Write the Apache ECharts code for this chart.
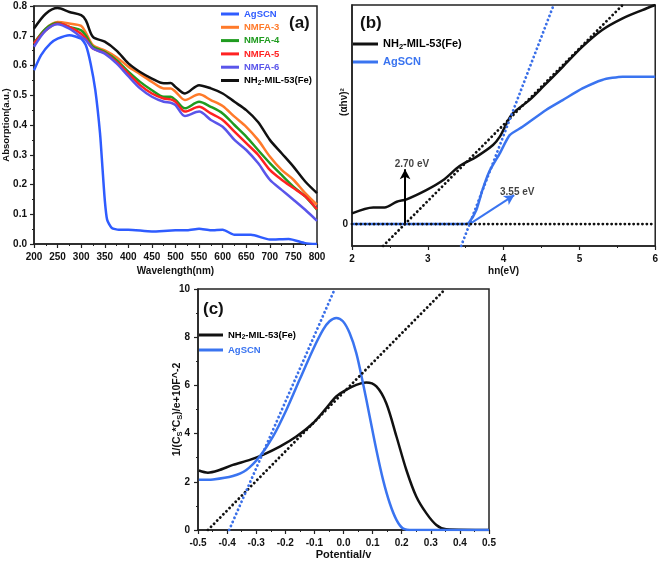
<!DOCTYPE html>
<html><head><meta charset="utf-8">
<script src="https://cdn.jsdelivr.net/npm/echarts@6/dist/echarts.min.js"></script>
<style>html,body{margin:0;padding:0;background:#fff}#c{width:661px;height:562px}</style>
</head><body><div id="c"></div>
<script>
// ---------- Panel (a): UV-vis absorption ----------
const waveA = [200,225,250,275,300,310,325,350,375,400,425,450,475,490,500,520,550,575,600,625,650,675,700,725,750,775,800];
const absNH2   = [.724,.774,.793,.780,.769,.752,.696,.680,.650,.607,.578,.556,.540,.541,.528,.506,.534,.523,.506,.478,.450,.410,.350,.305,.260,.210,.171];
const absNMFA3 = [.674,.724,.746,.741,.733,.710,.668,.651,.628,.596,.571,.545,.523,.523,.512,.484,.503,.484,.464,.428,.394,.350,.294,.249,.216,.171,.132];
const absNMFA4 = [.674,.724,.743,.730,.718,.700,.663,.646,.618,.579,.545,.517,.495,.495,.484,.456,.478,.461,.439,.400,.361,.316,.272,.232,.193,.160,.115];
const absNMFA5 = [.674,.718,.741,.730,.707,.690,.657,.642,.612,.573,.534,.506,.489,.486,.478,.445,.461,.439,.417,.378,.339,.300,.249,.216,.188,.160,.117];
const absNMFA6 = [.663,.718,.739,.724,.696,.685,.657,.640,.607,.564,.523,.495,.478,.475,.467,.430,.445,.417,.394,.350,.316,.272,.216,.182,.149,.115,.078];
const waveAg = [200,215,235,250,275,300,310,320,330,340,345,350,355,365,380,400,450,500,525,550,575,600,625,660,700,740,775,800];
const absAg  = [.584,.635,.674,.690,.702,.690,.668,.607,.517,.372,.260,.149,.082,.054,.048,.048,.042,.046,.046,.051,.046,.048,.031,.031,.015,.017,.003,0];

// ---------- Panel (b): Tauc plot ----------
const bNH2X = [2,2.28,2.43,2.59,2.72,2.98,3.2,3.42,3.64,3.86,3.95,4.04,4.12,4.34,4.52,4.78,5.04,5.3,5.57,5.83,6];
const bNH2Y = [0.49,0.76,0.76,1.02,1.13,1.55,2.0,2.65,3.07,3.61,3.99,4.6,5.05,5.66,6.27,7.18,8.1,8.86,9.39,9.77,10.0];
const bAgX = [2,3.5,3.55,3.64,3.72,3.81,3.95,4.08,4.25,4.56,4.78,5.04,5.3,5.57,6];
const bAgY = [0,0,0.1,0.64,1.55,2.39,3.23,4.06,4.44,5.21,5.66,6.19,6.58,6.73,6.73];
const bFitNH2 = [[2.41,-1],[5.57,10]];
const bFitAg  = [[3.44,-1],[4.66,10]];
const bBase   = [[2,0],[6,0]];
const bArrowNH2 = [[2.70,0],[2.70,2.5]];
const bArrowAg  = [[3.55,0],[4.14,1.32]];
const bNotes = [[2.79,2.72,'2.70 eV'],[4.18,1.46,'3.55 eV']];

// ---------- Panel (c): Mott-Schottky ----------
const cNH2X = [-0.497,-0.466,-0.431,-0.38,-0.322,-0.277,-0.219,-0.162,-0.105,-0.059,-0.025,0.01,0.044,0.078,0.113,0.147,0.182,0.216,0.25,0.285,0.319,0.353,0.5];
const cNH2Y = [2.47,2.38,2.47,2.7,2.91,3.12,3.46,3.88,4.43,5.06,5.54,5.82,6.02,6.12,5.96,5.26,3.88,2.49,1.39,0.69,0.21,0.03,0];
const cAgX = [-0.497,-0.448,-0.38,-0.334,-0.288,-0.242,-0.196,-0.151,-0.105,-0.07,-0.048,-0.025,-0.002,0.021,0.044,0.067,0.09,0.113,0.136,0.159,0.182,0.204,0.239,0.5];
const cAgY = [2.08,2.1,2.24,2.49,3.05,3.88,4.99,6.23,7.48,8.31,8.66,8.8,8.66,8.17,7.34,6.09,4.71,3.32,2.08,1.11,0.42,0.07,0,0];
const cFitNH2 = [[-0.466,0],[0.35,10]];
const cFitAg  = [[-0.393,0],[-0.03,10]];

const zip = (xs, ys) => xs.map((x, i) => [x, ys[i]]);
const FONT = '"Liberation Sans", Arial, sans-serif';
const C = {ag:'#2f5cff', n3:'#ff7a2a', n4:'#1f9b1f', n5:'#ff2222', n6:'#5a55ea', nh2:'#111111', ag2:'#3a74f0', agDot:'#3a6fe8'};

function axisCommon(extra) {
  return Object.assign({
    axisLine:{show:true, onZero:false, lineStyle:{color:'#222', width:1.5}},
    axisTick:{show:true, inside:false, length:4, lineStyle:{color:'#222', width:1.2}},
    minorTick:{show:true, splitNumber:2, length:2, lineStyle:{color:'#222', width:1}},
    splitLine:{show:false},
    axisLabel:{color:'#111', fontFamily:FONT, fontWeight:'bold', fontSize:10, margin:8, hideOverlap:false, interval:0},
    nameTextStyle:{color:'#111', fontFamily:FONT, fontWeight:'bold', fontSize:10},
    nameLocation:'middle',
    nameMoveOverlap:false
  }, extra);
}

const richLeg = (fs) => ({
  n:{fontFamily:FONT, fontWeight:'bold', fontSize:fs, color:'#000'},
  s:{fontFamily:FONT, fontWeight:'bold', fontSize:fs*0.68, color:'#000', padding:[fs*0.5,0,0,0]}
});
const legFmt = (name) => {
  const n = name.slice(2);
  if (n === 'NH2-MIL-53(Fe)') return '{n|NH}{s|2}{n|-MIL-53(Fe)}';
  return n;
};

function line(name, data, color, xi, extra) {
  return Object.assign({
    type:'line', name, data, xAxisIndex:xi, yAxisIndex:xi, symbol:'none', smooth:0.3,
    lineStyle:{color, width:2.5}, itemStyle:{color}, silent:true, z:3
  }, extra || {});
}
function dotted(name, data, color, xi, z) {
  return {type:'line', name, data, xAxisIndex:xi, yAxisIndex:xi, symbol:'none', silent:true, z:z||4,
    lineStyle:{color, width:2.8, type:[0.1,4.3], cap:'round'}, itemStyle:{color}};
}
function arrow(data, color) {
  return {type:'line', data:[], xAxisIndex:1, yAxisIndex:1, symbol:'none', silent:true, z:6,
    markLine:{silent:true, symbol:['none','arrow'], symbolSize:[8,10], label:{show:false},
      lineStyle:{color, width:2, type:'solid'}, emphasis:{disabled:true},
      data:[[{coord:data[0]},{coord:data[1]}]]}};
}

const option = {
  animation:false,
  backgroundColor:'#fff',
  textStyle:{fontFamily:FONT},
  title:[
    {text:'(a)', left:289, top:15, padding:0, textStyle:{fontFamily:FONT, fontWeight:'bold', fontSize:17, color:'#111'}},
    {text:'(b)', left:360, top:15, padding:0, textStyle:{fontFamily:FONT, fontWeight:'bold', fontSize:17, color:'#111'}},
    {text:'(c)', left:203, top:301, padding:0, textStyle:{fontFamily:FONT, fontWeight:'bold', fontSize:17, color:'#111'}}
  ],
  grid:[
    {left:34, top:6, width:283, height:238, show:true, borderColor:'#222', borderWidth:1.5, backgroundColor:'transparent'},
    {left:352, top:5, width:304, height:241, show:true, borderColor:'#222', borderWidth:1.5, backgroundColor:'transparent'},
    {left:198, top:289, width:291, height:241, show:true, borderColor:'#222', borderWidth:1.5, backgroundColor:'transparent'}
  ],
  xAxis:[
    axisCommon({gridIndex:0, type:'value', min:200, max:800, interval:50, name:'Wavelength(nm)', nameGap:22}),
    axisCommon({gridIndex:1, type:'value', min:2, max:6, interval:1, name:'hn(eV)', nameGap:20}),
    axisCommon({gridIndex:2, type:'value', min:-0.5, max:0.5, interval:0.1, name:'Potential/v', nameGap:19,
      axisLabel:{color:'#111', fontFamily:FONT, fontWeight:'bold', fontSize:10, margin:8, hideOverlap:false, interval:0, formatter:v=>v.toFixed(1)},
      nameTextStyle:{color:'#111', fontFamily:FONT, fontWeight:'bold', fontSize:11}})
  ],
  yAxis:[
    axisCommon({gridIndex:0, type:'value', min:0, max:0.8, interval:0.1, name:'Absorption(a.u.)', nameGap:23,
      axisLabel:{color:'#111', fontFamily:FONT, fontWeight:'bold', fontSize:10, margin:7, formatter:v=>v.toFixed(1)},
      nameTextStyle:{color:'#111', fontFamily:FONT, fontWeight:'bold', fontSize:9.5}}),
    axisCommon({gridIndex:1, type:'value', min:-1, max:10, interval:1, name:'(αhν)²', nameGap:3,
      axisTick:{show:false}, minorTick:{show:false},
      axisLabel:{color:'#111', fontFamily:FONT, fontWeight:'bold', fontSize:10, margin:4, formatter:v=>Math.abs(v)<1e-9?'0':''},
      nameTextStyle:{color:'#111', fontFamily:FONT, fontWeight:'bold', fontSize:10, padding:[0,0,0,47]}}),
    axisCommon({gridIndex:2, type:'value', min:0, max:10, interval:2, name:'1/(C{s|S}*C{s|S})/e+10F^-2', nameGap:14,
      nameTextStyle:{color:'#111', fontFamily:FONT, fontWeight:'bold', fontSize:10.5,
        rich:{s:{fontFamily:FONT, fontWeight:'bold', fontSize:7.5, color:'#111', padding:[6,0,0,0]}}}})
  ],
  legend:[
    {left:221, top:8, orient:'vertical', padding:0, itemWidth:18, itemHeight:3, itemGap:1.3, icon:'rect', selectedMode:false,
      formatter:legFmt, textStyle:{fontFamily:FONT, fontWeight:'bold', fontSize:9.5, lineHeight:12, rich:richLeg(9.5)},
      data:[{name:'a_AgSCN', textStyle:{color:C.ag}},{name:'a_NMFA-3', textStyle:{color:C.n3}},{name:'a_NMFA-4', textStyle:{color:C.n4}},
            {name:'a_NMFA-5', textStyle:{color:C.n5}},{name:'a_NMFA-6', textStyle:{color:C.n6}},{name:'a_NH2-MIL-53(Fe)', textStyle:{color:'#000'}}]},
    {left:353, top:37.5, orient:'vertical', padding:0, itemWidth:25, itemHeight:3, itemGap:5, icon:'rect', selectedMode:false,
      formatter:legFmt, textStyle:{fontFamily:FONT, fontWeight:'bold', fontSize:11, lineHeight:13, rich:richLeg(11)},
      data:[{name:'b_NH2-MIL-53(Fe)', textStyle:{color:'#000'}},{name:'b_AgSCN', textStyle:{color:C.ag2}}]},
    {left:199, top:329, orient:'vertical', padding:0, itemWidth:24, itemHeight:3, itemGap:3, icon:'rect', selectedMode:false,
      formatter:legFmt, textStyle:{fontFamily:FONT, fontWeight:'bold', fontSize:9.5, lineHeight:12, rich:richLeg(9.5)},
      data:[{name:'c_NH2-MIL-53(Fe)', textStyle:{color:'#000'}},{name:'c_AgSCN', textStyle:{color:C.ag2}}]}
  ],
  series:[
    line('a_AgSCN', zip(waveAg, absAg), C.ag, 0, {smooth:0.2}),
    line('a_NMFA-3', zip(waveA, absNMFA3), C.n3, 0),
    line('a_NMFA-4', zip(waveA, absNMFA4), C.n4, 0),
    line('a_NMFA-5', zip(waveA, absNMFA5), C.n5, 0),
    line('a_NMFA-6', zip(waveA, absNMFA6), C.n6, 0),
    line('a_NH2-MIL-53(Fe)', zip(waveA, absNH2), C.nh2, 0),

    line('b_NH2-MIL-53(Fe)', zip(bNH2X, bNH2Y), C.nh2, 1),
    line('b_AgSCN', zip(bAgX, bAgY), C.ag2, 1, {smooth:0.2}),
    dotted('b_fit1', bFitNH2, '#111', 1),
    dotted('b_fit2', bFitAg, C.agDot, 1),
    dotted('b_base', bBase, '#111', 1, 5),
    arrow(bArrowNH2, '#000'),
    arrow(bArrowAg, C.ag2),
    {type:'scatter', xAxisIndex:1, yAxisIndex:1, symbolSize:0, silent:true, z:7,
      data:bNotes.map(d=>({value:[d[0],d[1]], name:d[2]})),
      label:{show:true, position:'inside', formatter:p=>p.name, color:'#111', fontFamily:FONT, fontWeight:'bold', fontSize:10}},

    line('c_NH2-MIL-53(Fe)', zip(cNH2X, cNH2Y), C.nh2, 2),
    line('c_AgSCN', zip(cAgX, cAgY), C.ag2, 2),
    dotted('c_fit1', cFitNH2, '#111', 2),
    dotted('c_fit2', cFitAg, C.agDot, 2)
  ]
};
const chart = echarts.init(document.getElementById('c'), null, {renderer:'canvas'});
chart.setOption(option);
</script></body></html>
